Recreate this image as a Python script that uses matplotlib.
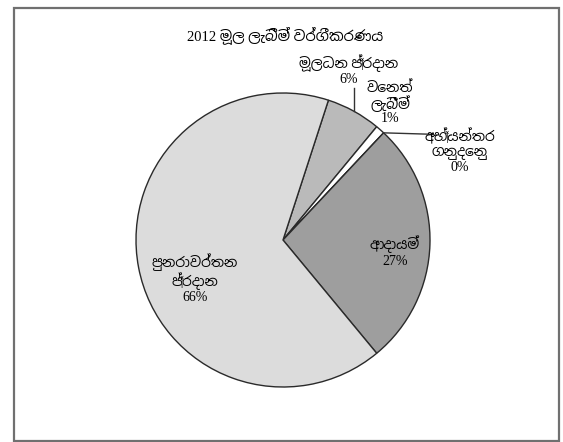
import matplotlib
matplotlib.use("Agg")
import matplotlib.pyplot as plt
import numpy as np
from matplotlib import font_manager
from matplotlib.patches import Rectangle

# ---- data ----
title = "2012 මූල ලැබීම් වර්ගීකරණය"
categories = ["මූලධන ප්‍රදාන", "වෙනත් ලැබීම්", "අභ්‍යන්තර ගනුදෙනු", "ආදායම්", "පුනරාවර්තන ප්‍රදාන"]
label_lines = ["මූලධන ප්‍රදාන", "වෙනත්\nලැබීම්", "අභ්‍යන්තර\nගනුදෙනු", "ආදායම්", "පුනරාවර්තන\nප්‍රදාන"]
values = [6, 1, 0, 27, 66]
colors = ["#bababa", "#ffffff", "#ffffff", "#9e9e9e", "#dcdcdc"]

# ---- fonts ----
sinhala = None
for f in font_manager.fontManager.ttflist:
    if "sinhala" in f.name.lower():
        sinhala = f.name
        break
if sinhala is None:
    try:
        from matplotlib.ft2font import FT2Font
        for f in font_manager.fontManager.ttflist:
            if "CJK" in f.name:
                continue
            try:
                if 0x0DB8 in FT2Font(f.fname).get_charmap():
                    sinhala = f.name
                    break
            except Exception:
                pass
    except Exception:
        pass
families = ["Liberation Serif"] + ([sinhala] if sinhala else []) + ["DejaVu Sans"]
plt.rcParams["font.family"] = families

W, H = 563, 442
fig = plt.figure(figsize=(W / 100, H / 100), dpi=100)
fig.patch.set_facecolor("white")

# frame
fig.add_artist(Rectangle((14 / W, 1 - 441 / H), (559 - 14) / W, (441 - 8) / H,
                         transform=fig.transFigure, fill=False,
                         edgecolor="#707070", linewidth=1.6))

fig.text(285 / W, 1 - 35 / H, title, ha="center", va="center", fontsize=10.5)

cx, cy, r = 283, 240, 147
ax = fig.add_axes([(cx - r) / W, (H - cy - r) / H, 2 * r / W, 2 * r / H])
wedges, _ = ax.pie(values, colors=colors, startangle=72, counterclock=False,
                   radius=1, wedgeprops=dict(edgecolor="#2a2a2a", linewidth=1.0))
ax.set_xlim(-1, 1)
ax.set_ylim(-1, 1)
ax.set_aspect("equal")
ax.axis("off")

def mid(w):
    return np.deg2rad((w.theta1 + w.theta2) / 2)

pct = [f"{v}%" for v in values]
fs = 10

def px(x, y):
    return (x - cx) / r, (cy - y) / r

# capital grants (outside, leader up)
a = mid(wedges[0])
x0, y0 = np.cos(a), np.sin(a)
ax.plot([x0, x0], [y0, px(0, 88)[1]], color="#333333", lw=1.0, clip_on=False)
ax.text(*px(349, 70), label_lines[0] + "\n" + pct[0], ha="center", va="center",
        fontsize=fs, linespacing=1.1, clip_on=False)

# other receipts
ax.text(*px(390, 103), label_lines[1] + "\n" + pct[1], ha="center", va="center",
        fontsize=fs, linespacing=1.0, clip_on=False)

# internal transactions (leader horizontal)
a = mid(wedges[2])
x0, y0 = np.cos(a), np.sin(a)
ax.plot([x0, px(433, 0)[0]], [y0, y0 - 0.01], color="#333333", lw=1.0, clip_on=False)
ax.text(*px(460, 151), label_lines[2] + "\n" + pct[2], ha="center", va="center",
        fontsize=fs, linespacing=1.1, clip_on=False)

# revenue (inside)
ax.text(*px(395, 252), label_lines[3] + "\n" + pct[3], ha="center", va="center",
        fontsize=fs, linespacing=1.2, clip_on=False)

# recurrent grants (inside)
ax.text(*px(195, 279), label_lines[4] + "\n" + pct[4], ha="center", va="center",
        fontsize=fs, linespacing=1.1, clip_on=False)

fig.savefig("out.png", dpi=100)
